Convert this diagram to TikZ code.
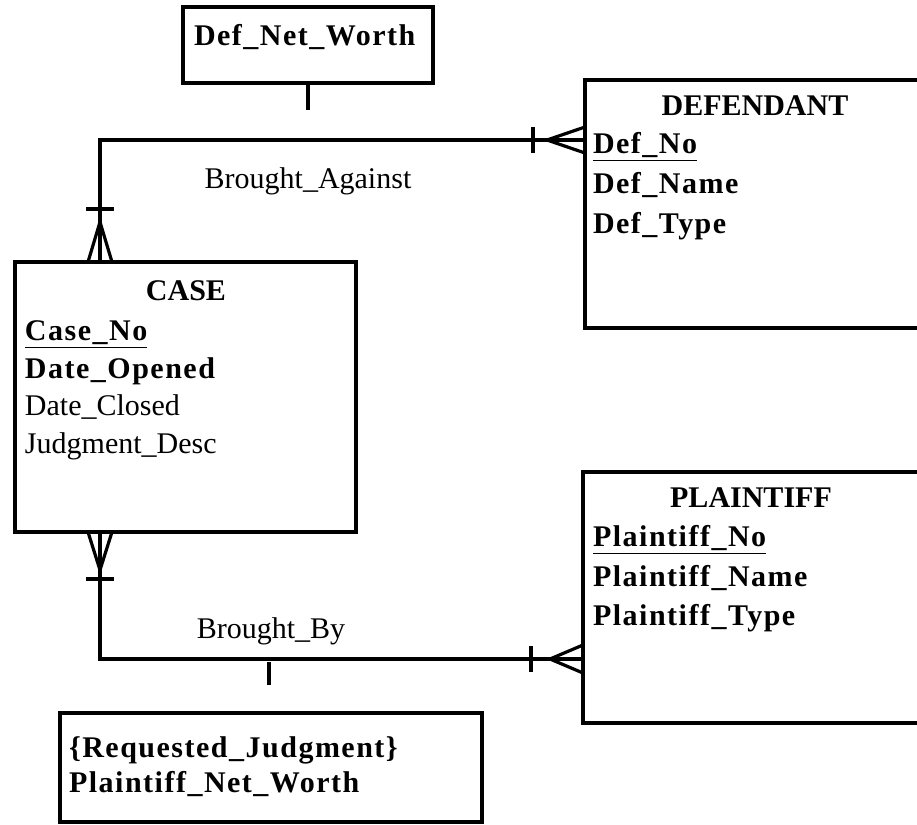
\documentclass[tikz,border=0pt]{standalone}
\usepackage{fontspec}
\setmainfont{Liberation Serif}
\newfontfamily\attrfont[LetterSpace=5]{Liberation Serif}
\usepackage{tikz}
\usetikzlibrary{positioning}

\begin{document}
\begin{tikzpicture}[x=0.5pt, y=-0.5pt, line width=2pt,
    entity/.style = {rectangle, draw=black, line width=2pt,
                     anchor=north west, inner sep=0pt, outer sep=0pt},
    title/.style = {anchor=base, inner sep=0pt,
                    font=\fontsize{15}{18}\selectfont\bfseries},
    attr/.style = {anchor=base west, inner sep=0pt,
                   font=\fontsize{15}{18}\selectfont\attrfont\bfseries},
    desc/.style = {anchor=base west, inner sep=0pt,
                   font=\fontsize{15}{18}\selectfont},
    relname/.style = {anchor=base, inner sep=0pt,
                      font=\fontsize{15}{18}\selectfont},
    foot/.style = {line width=1.6pt}]
  \useasboundingbox (0,0) rectangle (917,825);
  \clip (0,0) rectangle (917,825);

  % entity boxes
  \node (dnw) [entity, minimum width=125pt, minimum height=38pt] at (183,7) {};
  \node (defendant) [entity, minimum width=175pt, minimum height=124pt] at (585,80) {};
  \node (case) [entity, minimum width=170.5pt, minimum height=135pt] at (15,262) {};
  \node (plaintiff) [entity, minimum width=176pt, minimum height=125.5pt] at (583,472) {};
  \node (reqj) [entity, minimum width=211pt, minimum height=54.5pt] at (60,713) {};

  % texts
  \node (dnwtxt) [attr] at (192,45) {Def\_Net\_Worth};

  \node (deftitle) [title] at (755,115) {DEFENDANT};
  \node (defno) [attr] at (591,153) {\underline{Def\_No}};
  \node (defname) [attr] at (591,193) {Def\_Name};
  \node (deftype) [attr] at (591,233) {Def\_Type};

  \node (casetitle) [title] at (186,300) {CASE};
  \node (caseno) [attr] at (23,340) {\underline{Case\_No}};
  \node (opened) [attr] at (23,378) {Date\_Opened};
  \node (closed) [desc] at (23,415) {Date\_Closed};
  \node (judg) [desc] at (23,453) {Judgment\_Desc};

  \node (pltitle) [title] at (751,507) {PLAINTIFF};
  \node (plno) [attr] at (591,546) {\underline{Plaintiff\_No}};
  \node (plname) [attr] at (591,586) {Plaintiff\_Name};
  \node (pltype) [attr] at (591,625) {Plaintiff\_Type};

  \node (reqtxt) [attr] at (67,757) {\{Requested\_Judgment\}};
  \node (plnw) [attr] at (67,792) {Plaintiff\_Net\_Worth};

  \node (against) [relname] at (308,188) {Brought\_Against};
  \node (by) [relname] at (271,638) {Brought\_By};

  % relationship lines
  \coordinate (ba) at (100,140);
  \coordinate (bb) at (100,659);
  \draw (defendant.west |- ba) -- (ba) -- (case.north -| ba);
  \draw (case.south -| bb) -- (bb) -- (plaintiff.west |- bb);

  % attribute stubs
  \coordinate (bastub) at (308,110);
  \coordinate (bbstub) at (269,685);
  \draw (dnw.south) -- (dnw.south |- bastub);
  \draw (bbstub) -- ++(0,-23);

  % crow's feet and bars
  \draw[foot] (case.north -| ba) ++(-12,0) -- ++(12,-40) -- ++(12,40);
  \draw (case.north -| ba) ++(-14,-53) -- ++(28,0);
  \draw[foot] (case.south -| bb) ++(-12,0) -- ++(12,38) -- ++(12,-38);
  \draw (case.south -| bb) ++(-14,47) -- ++(28,0);
  \draw[foot] (defendant.west |- ba) ++(0,-13) -- ++(-38,13) -- ++(38,13);
  \draw (defendant.west |- ba) ++(-52,-13) -- ++(0,26);
  \draw[foot] (plaintiff.west |- bb) ++(0,-14) -- ++(-33,14) -- ++(33,14);
  \draw (plaintiff.west |- bb) ++(-52,-13) -- ++(0,26);
\end{tikzpicture}
\end{document}
